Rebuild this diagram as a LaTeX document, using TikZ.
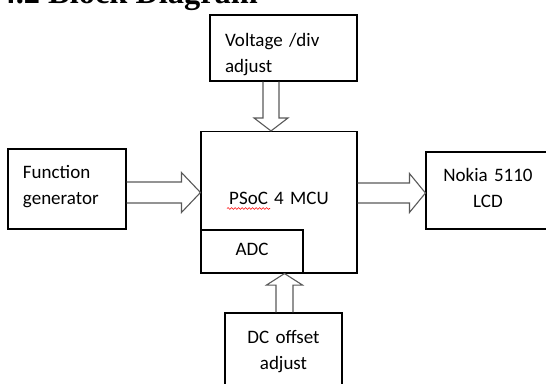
\documentclass[tikz,border=0pt]{standalone}
\usepackage{fontspec}
\setmainfont{Carlito}
\newfontfamily\headfont{Liberation Serif}
\usetikzlibrary{calc,decorations.pathmorphing}

% hollow block arrow: shaft half width, head half width, head length, from, to
\newcommand\blkarrow[5]{%
  \coordinate (ba) at (#4); \coordinate (bb) at (#5);
  \coordinate (bh) at ($(bb)!#3pt!(ba)$);
  \draw[blk] ($(ba)!#1pt!90:(bb)$) -- ($(bh)!#1pt!90:(bb)$) -- ($(bh)!#2pt!90:(bb)$) -- (bb)
    -- ($(bh)!#2pt!-90:(bb)$) -- ($(bh)!#1pt!-90:(bb)$) -- ($(ba)!#1pt!-90:(bb)$);}

\begin{document}
\begin{tikzpicture}[x=1pt,y=-1pt,font=\fontsize{19pt}{26pt}\selectfont,
  box/.style={draw,line width=1.1pt,inner xsep=15pt,inner ysep=0pt,text height=14pt},
  blk/.style={draw=gray!70!black,line width=1.1pt,line join=miter},
  head/.style={font=\headfont\bfseries\fontsize{32.4pt}{36pt}\selectfont,inner sep=0pt,anchor=base west}]
\path[use as bounding box,clip] (0,0) rectangle (546,383);
\node[head] (title) at (-0.6,3) {4.2 Block Diagram};
\node[box,minimum width=147pt,minimum height=66pt,text width=117pt,text depth=16.6pt,align=left]     (volt) at (283.5,48)    {Voltage /div\\adjust};
\node[box,minimum width=156pt,minimum height=141.5pt,text width=126pt,text depth=10.5pt,align=center] (mcu) at (279,202.25) {PSoC 4 MCU};
\node[box,minimum width=102pt,minimum height=43pt,text width=72pt,text depth=7pt,align=center]        (adc)  at (252,251.5)   {ADC};
\node[box,minimum width=118pt,minimum height=80pt,text width=88pt,text depth=36pt,align=left]        (func) at (67,189)      {Function\\generator};
\node[box,minimum width=124pt,minimum height=77pt,text width=94pt,text depth=33pt,align=center]      (lcd)  at (488,190.5)   {Nokia 5110\\LCD};
\node[box,minimum width=117pt,minimum height=77pt,text width=87pt,text depth=31pt,align=center]      (dc)   at (283.5,351.5) {DC offset\\adjust};
\draw[red,line width=0.6pt,decorate,decoration={snake,amplitude=0.9pt,segment length=3.5pt}] (227,208.5) -- (270,208.5);
\coordinate (vout) at ([xshift=-12.5pt]volt.south);
\coordinate (fout) at ([yshift=-3.5pt]func.east);
\coordinate (lin)  at ([yshift=-2.5pt]lcd.west);
\coordinate (dout) at ([xshift=1pt]dc.north);
\blkarrow{8}{17}{13}{vout}{vout |- mcu.north}
\blkarrow{10.5}{20}{19}{fout}{fout -| mcu.west}
\blkarrow{10}{19.5}{16}{lin -| mcu.east}{lin}
\blkarrow{8.5}{18}{11.5}{dout}{dout |- adc.south}
\end{tikzpicture}
\end{document}
